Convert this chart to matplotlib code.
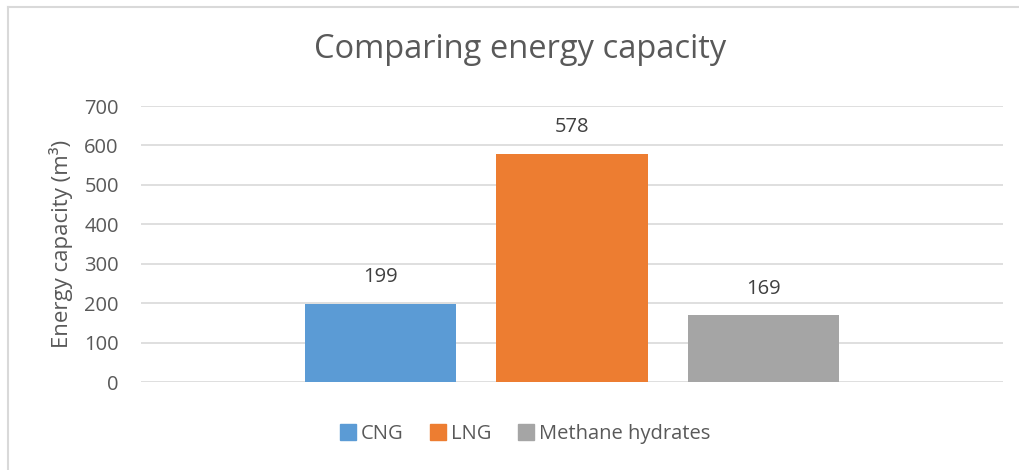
import matplotlib.pyplot as plt
from matplotlib.lines import Line2D

plt.rcParams['font.family'] = ['Open Sans', 'DejaVu Sans']

series = ["CNG", "LNG", "Methane hydrates"]
values = [199, 578, 169]
colors = ["#5B9BD5", "#ED7D31", "#A5A5A5"]
yticks = [0, 100, 200, 300, 400, 500, 600, 700]
text_col = "#595959"

fig = plt.figure(figsize=(10.2, 4.7), dpi=100)
ax = fig.add_axes([141/1020, 88/470, 862/1020, 276/470])

x = list(range(len(series)))
bars = ax.bar(x, values, width=0.79, color=colors, zorder=3)
for b, v in zip(bars, values):
    ax.annotate(str(v), (b.get_x() + b.get_width()/2, v), xytext=(0, 12),
                textcoords="offset points", ha="center", va="bottom",
                fontsize=14.5, color="#404040")

ax.set_xlim(-1.254, 3.254)
ax.set_ylim(0, 700)
ax.set_yticks(yticks)
ax.set_xticks([])
ax.yaxis.grid(True, color="#D9D9D9", linewidth=1.2, zorder=0)
for s in ax.spines.values():
    s.set_visible(False)
ax.tick_params(axis="y", length=0, pad=16, labelsize=14.5, labelcolor=text_col)
ax.set_ylabel("Energy capacity (m³)", fontsize=16, color=text_col, labelpad=8)

fig.text(520/1020, 1 - 50/470, "Comparing energy capacity", ha="center", va="center",
         fontsize=23.5, color=text_col)

handles = [Line2D([], [], marker="s", linestyle="", markersize=11, color=c) for c in colors]
fig.legend(handles, series, loc="center", bbox_to_anchor=(525/1020, 36/470), ncol=3,
           frameon=False, fontsize=14.5, labelcolor=text_col, handlelength=0.8,
           handletextpad=0.25, columnspacing=1.3)

# chart frame
fig.add_artist(Line2D([8/1020, 8/1020], [0, 1 - 7/470], color="#D9D9D9", lw=1.5))
fig.add_artist(Line2D([8/1020, 1], [1 - 7/470, 1 - 7/470], color="#D9D9D9", lw=1.5))

fig.savefig("out.png", dpi=100)
